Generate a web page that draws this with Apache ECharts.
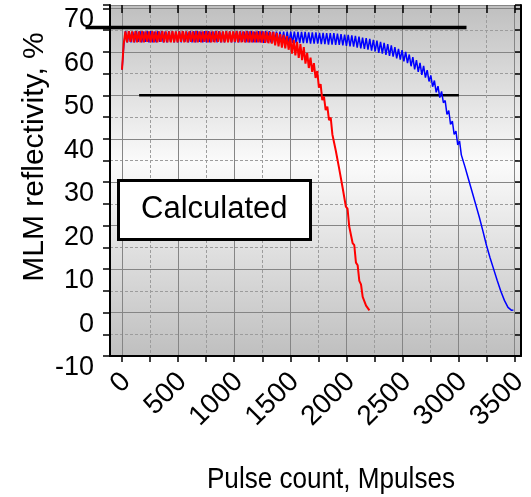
<!DOCTYPE html>
<html><head><meta charset="utf-8">
<script src="https://cdn.jsdelivr.net/npm/echarts@6/dist/echarts.min.js"></script>
<style>html,body{margin:0;padding:0;background:#fff}#c{width:531px;height:497px}</style>
</head><body><div id="c"></div>
<script>
// Pulse count sampling (Mpulses) for each simulated curve
const blueStep = 16;
const redStep = 15;
// MLM reflectivity (%) — blue curve, sampled every blueStep Mpulses from 0
const blueValues = [
  55.9, 61.5, 64.8, 62.2, 64.8, 62.2, 64.7, 62.2, 64.8, 62.3,
  64.8, 62.2, 64.7, 62.3, 64.8, 62.2, 64.8, 62.2, 64.7, 62.2,
  64.8, 62.3, 64.8, 62.2, 64.7, 62.2, 64.8, 62.3, 64.8, 62.2,
  64.7, 62.2, 64.8, 62.2, 64.8, 62.3, 64.7, 62.2, 64.8, 62.2,
  64.8, 62.2, 64.8, 62.3, 64.7, 62.2, 64.8, 62.2, 64.8, 62.2,
  64.7, 62.3, 64.8, 62.2, 64.8, 62.2, 64.7, 62.2, 64.8, 62.3,
  64.8, 62.2, 64.7, 62.2, 64.8, 62.2, 64.8, 62.3, 64.7, 62.2,
  64.8, 62.2, 64.8, 62.2, 64.7, 62.2, 64.8, 62.2, 64.8, 62.1,
  64.8, 62.2, 64.8, 62.2, 64.7, 62.1, 64.7, 62.1, 64.7, 62.1,
  64.7, 62.1, 64.7, 62.1, 64.7, 62.1, 64.7, 62.0, 64.6, 62.0,
  64.6, 62.0, 64.6, 62.0, 64.5, 61.9, 64.5, 61.9, 64.5, 61.9,
  64.4, 61.8, 64.4, 61.8, 64.3, 61.7, 64.3, 61.7, 64.3, 61.6,
  64.2, 61.6, 64.1, 61.5, 64.0, 61.4, 63.9, 61.3, 63.8, 61.2,
  63.7, 61.0, 63.5, 60.8, 63.3, 60.7, 63.2, 60.5, 63.0, 60.3,
  62.8, 60.1, 62.6, 59.8, 62.3, 59.6, 62.1, 59.3, 61.8, 59.1,
  61.5, 58.9, 61.1, 58.5, 60.7, 58.2, 60.4, 57.8, 60.0, 57.4,
  59.4, 56.7, 58.8, 56.0, 58.1, 55.4, 57.5, 54.7, 56.8, 54.1,
  55.8, 53.2, 54.6, 52.0, 53.4, 50.7, 52.1, 49.5, 50.9, 48.3,
  48.8, 45.6, 46.5, 43.3, 44.1, 41.0, 41.8, 38.6, 39.5, 36.3,
  36.7, 33.6, 33.8, 30.7, 30.9, 27.8, 28.0, 24.9, 25.0, 22.0,
  22.0, 18.8, 18.5, 15.5, 15.4, 12.6, 12.7, 10.0, 10.1, 7.4,
  7.2, 4.9, 4.8, 2.8, 2.9, 1.2, 1.6, 0.5, 0.6
];
// MLM reflectivity (%) — red curve, sampled every redStep Mpulses from 0
const redValues = [
  55.9, 61.8, 64.7, 62.2, 64.8, 62.3, 64.7, 62.2, 64.8, 62.2,
  64.7, 62.2, 64.8, 62.2, 64.7, 62.3, 64.7, 62.2, 64.8, 62.2,
  64.7, 62.2, 64.7, 62.3, 64.8, 62.2, 64.7, 62.2, 64.7, 62.2,
  64.8, 62.2, 64.7, 62.2, 64.7, 62.3, 64.8, 62.2, 64.7, 62.2,
  64.7, 62.3, 64.7, 62.2, 64.8, 62.2, 64.7, 62.2, 64.7, 62.3,
  64.8, 62.2, 64.7, 62.2, 64.7, 62.2, 64.8, 62.3, 64.7, 62.2,
  64.7, 62.2, 64.8, 62.2, 64.7, 62.2, 64.7, 62.3, 64.8, 62.2,
  64.7, 62.2, 64.7, 62.2, 64.8, 62.2, 64.7, 62.2, 64.7, 62.2,
  64.75, 62.2, 64.7, 62.15, 64.7, 62.1, 64.65, 62.0, 64.6, 61.9,
  64.6, 61.5, 64.4, 61.3, 64.1, 61.0, 63.9, 60.8, 63.65, 60.5,
  63.2, 59.6, 62.8, 59.2, 62.3, 58.6, 61.8, 58.1, 61.1, 57.3,
  59.8, 56.3, 58.7, 55.4, 57.4, 54.0, 55.6, 51.8, 52.6, 48.9,
  49.7, 46.6, 47.4, 44.3, 44.9, 41.0, 41.0, 37.3, 37.3, 33.2,
  32.9, 28.9, 28.5, 24.4, 23.9, 19.8, 19.6, 16.0, 15.5, 11.5,
  10.9, 7.3, 6.5, 3.6, 3.5, 1.6, 1.5, 0.5
];
// Horizontal reference levels: [start Mpulses, end Mpulses], level %
const upperRefX = [-320, 3022];
const upperRefY = 65.6;
const lowerRefX = [150, 2955];
const lowerRefY = 50;
// Axis ranges / labels
const xMinFrame = -105, xMax = 3500;
const yMin = -10, yMax = 70.8;
const yTitle = 'MLM reflectivity, %';
const xTitle = 'Pulse count, Mpulses';
const boxText = 'Calculated';

const ARIAL = '"Liberation Sans",Arial,sans-serif';

// layout (pixels)
const W = 531, gridTop = 5, gridBottom = 141, gridRight = 10, frameLeft = 110, dataLeft = 122;
// a wide hidden grid sharing the same pixel scale, for reference lines that stick out of the frame
const pxPerUnit = (W - gridRight - dataLeft) / xMax;
const xMinWide = xMax - (W - gridRight) / pxPerUnit;

const blueData = blueValues.map((v, i) => [i * blueStep, v]);
const redData = redValues.map((v, i) => [i * redStep, v]);

const chart = echarts.init(document.getElementById('c'), null, {renderer: 'canvas'});
const option = {
  animation: false,
  backgroundColor: '#fff',
  title: {
    text: boxText, left: 118, top: 180, padding: [14, 23, 15, 23],
    borderColor: '#000', borderWidth: 3, backgroundColor: '#fff',
    textStyle: {fontFamily: ARIAL, fontSize: 31, fontWeight: 'normal', color: '#000'}
  },
  grid: [
    {left: frameLeft, right: gridRight, top: gridTop, bottom: gridBottom, show: true, borderWidth: 0,
     backgroundColor: {type: 'linear', x: 0, y: 0, x2: 0, y2: 1, colorStops: [
       {offset: 0, color: '#bfbfbf'}, {offset: 0.45, color: '#fbfbfb'}, {offset: 1, color: '#bfbfbf'}]}},
    {left: dataLeft, right: gridRight, top: gridTop, bottom: gridBottom},
    {left: 0, right: gridRight, top: gridTop, bottom: gridBottom}
  ],
  xAxis: [
    {gridIndex: 0, type: 'value', min: xMinFrame, max: xMax,
     axisLine: {show: true, onZero: false, lineStyle: {color: '#000', width: 2}},
     axisTick: {show: false}, axisLabel: {show: false}, splitLine: {show: false}},
    {gridIndex: 1, type: 'value', min: 0, max: xMax, interval: 500, position: 'bottom',
     axisLine: {show: false, onZero: false},
     axisTick: {show: true, inside: false, length: 6, lineStyle: {color: '#000', width: 1.5}},
     minorTick: {show: true, splitNumber: 2, length: 6, lineStyle: {color: '#000', width: 1.5}},
     axisLabel: {rotate: 45, margin: 17, fontFamily: ARIAL, fontSize: 28, color: '#000',
       verticalAlign: 'top', lineHeight: 12, formatter: v => String(v)},
     splitLine: {show: true, lineStyle: {color: '#858585', width: 1}},
     minorSplitLine: {show: true, lineStyle: {color: '#9c9c9c', width: 1, type: [3, 2]}}},
    {gridIndex: 1, type: 'value', min: 0, max: xMax, interval: 250, position: 'top',
     axisLine: {show: false, onZero: false},
     axisTick: {show: true, inside: true, length: 8, lineStyle: {color: '#000', width: 1.5}},
     axisLabel: {show: false}, splitLine: {show: false}},
    {gridIndex: 2, type: 'value', min: xMinWide, max: xMax, show: false, splitLine: {show: false}}
  ],
  yAxis: [
    {gridIndex: 0, type: 'value', min: yMin, max: yMax, interval: 10, position: 'left',
     axisLine: {show: true, onZero: false, lineStyle: {color: '#000', width: 2}},
     axisTick: {show: true, length: 7, lineStyle: {color: '#000', width: 1.5}},
     minorTick: {show: true, splitNumber: 2, length: 7, lineStyle: {color: '#000', width: 1.5}},
     axisLabel: {fontFamily: ARIAL, fontSize: 27, color: '#000', margin: 16, verticalAlign: 'top', lineHeight: 23,
       formatter: v => (Math.abs(v % 10) < 1e-9 ? String(v) : '')},
     splitLine: {show: true, lineStyle: {color: '#858585', width: 1}},
     minorSplitLine: {show: true, lineStyle: {color: '#9c9c9c', width: 1, type: [3, 2]}}},
    {gridIndex: 0, type: 'value', min: yMin, max: yMax, interval: 5, position: 'right',
     axisLine: {show: true, onZero: false, lineStyle: {color: '#000', width: 2}},
     axisTick: {show: true, inside: true, length: 6, lineStyle: {color: '#000', width: 1.5}},
     axisLabel: {show: false}, splitLine: {show: false}},
    {gridIndex: 1, type: 'value', min: yMin, max: yMax, show: false, splitLine: {show: false}},
    {gridIndex: 2, type: 'value', min: yMin, max: yMax, show: false, splitLine: {show: false}}
  ],
  series: [
    {type: 'line', xAxisIndex: 3, yAxisIndex: 3, data: [[upperRefX[0], upperRefY], [upperRefX[1], upperRefY]],
     symbol: 'none', silent: true, lineStyle: {color: '#000', width: 3.5}, z: 2},
    {type: 'line', xAxisIndex: 3, yAxisIndex: 3, data: [[lowerRefX[0], lowerRefY], [lowerRefX[1], lowerRefY]],
     symbol: 'none', silent: true, lineStyle: {color: '#000', width: 2.5}, z: 2},
    {type: 'line', xAxisIndex: 1, yAxisIndex: 2, data: blueData, symbol: 'none', silent: true,
     lineStyle: {color: '#0000ff', width: 1.5}, z: 3},
    {type: 'line', xAxisIndex: 1, yAxisIndex: 2, data: redData, symbol: 'none', silent: true,
     lineStyle: {color: '#ff0000', width: 2}, z: 4}
  ],
  graphic: [
    {type: 'text', x: 35, y: 157, rotation: Math.PI / 2,
     style: {text: yTitle, fontFamily: ARIAL, fontSize: 30, fill: '#000', align: 'center', verticalAlign: 'middle'}},
    {type: 'text', x: 331, y: 480, scaleX: 0.9,
     style: {text: xTitle, fontFamily: ARIAL, fontSize: 29, fill: '#000', align: 'center', verticalAlign: 'middle'}}
  ]
};
chart.setOption(option);
</script>
</body></html>
